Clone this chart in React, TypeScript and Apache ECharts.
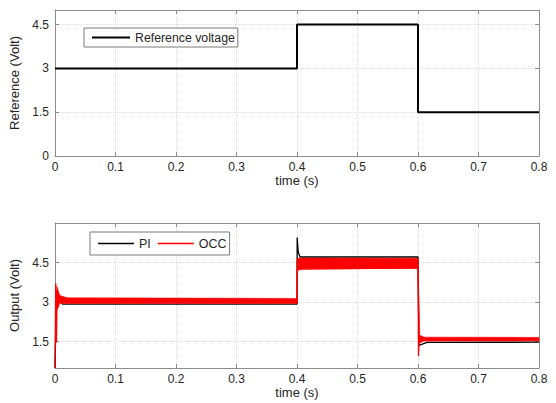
import React, { useEffect, useRef } from 'react';
import * as echarts from 'echarts';

// Top panel: reference voltage (step)
const refTime = [0, 0.4, 0.4, 0.6, 0.6, 0.8];
const refVolt = [3, 3, 4.5, 4.5, 1.5, 1.5];

// Bottom panel: PI output
const piTime = [0, 0.002, 0.004, 0.008, 0.013, 0.4, 0.4003, 0.402, 0.405, 0.6, 0.6015, 0.606, 0.615, 0.8];
const piVolt = [0.5, 3.0, 3.27, 3.05, 2.92, 2.92, 5.45, 4.9, 4.71, 4.71, 1.36, 1.4, 1.47, 1.48];

// Bottom panel: OCC output (transient trace)
const occTime = [0, 0.0012, 0.0024, 0.0035, 0.005, 0.007, 0.01, 0.4, 0.4005, 0.401, 0.6, 0.6008, 0.602, 0.605, 0.8];
const occVolt = [0.5, 3.71, 1.47, 3.45, 2.8, 3.2, 3.05, 3.05, 4.6, 4.25, 4.3, 0.96, 1.72, 1.55, 1.58];

// Bottom panel: OCC ripple envelope
const bandTime = [0.003, 0.008, 0.02, 0.4, 0.4008, 0.41, 0.6, 0.6025, 0.61, 0.8];
const bandLow = [2.7, 2.96, 2.95, 2.95, 4.2, 4.26, 4.28, 1.45, 1.52, 1.53];
const bandHigh = [3.6, 3.25, 3.16, 3.14, 4.66, 4.67, 4.66, 1.75, 1.67, 1.66];

// Tick values
const yTicksRef = [0, 1.5, 3, 4.5];
const yTicksOut = [1.5, 3, 4.5];

const axisColor = '#8c8c8c';
const textColor = '#262626';
const font = '"Liberation Sans", Arial, sans-serif';
const gridColor = '#dedede';

function makeX(gridIndex: number, main: boolean) {
  return {
    type: 'value',
    gridIndex,
    min: 0,
    max: 0.8,
    interval: 0.1,
    position: main ? 'bottom' : 'top',
    axisLine: { show: true, onZero: false, lineStyle: { color: axisColor, width: 1 } },
    axisTick: { show: true, inside: true, length: 4, lineStyle: { color: axisColor } },
    axisLabel: { show: main, color: textColor, fontSize: 12, fontFamily: font, margin: 5 },
    splitLine: { show: main, lineStyle: { color: gridColor, type: 'dotted', width: 1 } },
    name: main ? 'time (s)' : '',
    nameLocation: 'middle',
    nameGap: 17,
    nameTextStyle: { color: textColor, fontSize: 13, fontFamily: font },
  };
}

function makeY(gridIndex: number, main: boolean, min: number, max: number, ticks: number[], name: string) {
  return {
    type: 'value',
    gridIndex,
    min,
    max,
    position: main ? 'left' : 'right',
    axisLine: { show: true, onZero: false, lineStyle: { color: axisColor, width: 1 } },
    axisTick: { show: true, inside: true, length: 4, customValues: ticks, lineStyle: { color: axisColor } },
    axisLabel: { show: main, customValues: ticks, color: textColor, fontSize: 12, fontFamily: font, margin: 6 },
    splitLine: { show: main, lineStyle: { color: gridColor, type: 'dotted', width: 1 } },
    name: main ? name : '',
    nameLocation: 'middle',
    nameGap: 28,
    nameTextStyle: { color: textColor, fontSize: 13, fontFamily: font },
  };
}

export default function App() {
  const ref = useRef<HTMLDivElement>(null);
  useEffect(() => {
    if (!ref.current) return;
    const chart = echarts.init(ref.current, null, { renderer: 'svg' });
    const option: any = {
      animation: false,
      backgroundColor: '#ffffff',
      textStyle: { fontFamily: font },
      grid: [
        { left: 55, top: 10, width: 484, height: 146 },
        { left: 55, top: 223, width: 484, height: 145 },
      ],
      xAxis: [makeX(0, true), makeX(0, false), makeX(1, true), makeX(1, false)],
      yAxis: [
        makeY(0, true, 0, 5, yTicksRef, 'Reference (Volt)'),
        makeY(0, false, 0, 5, yTicksRef, ''),
        makeY(1, true, 0.5, 6, yTicksOut, 'Output (Volt)'),
        makeY(1, false, 0.5, 6, yTicksOut, ''),
      ],
      legend: [
        {
          data: [{ name: 'Reference voltage', icon: 'rect' }],
          left: 84,
          top: 28,
          orient: 'horizontal',
          itemWidth: 38,
          itemHeight: 2,
          padding: [3, 3, 3, 8],
          backgroundColor: '#ffffff',
          borderColor: '#7a7a7a',
          borderWidth: 1,
          borderRadius: 0,
          textStyle: { color: textColor, fontSize: 12.3, fontFamily: font, lineHeight: 13 },
          z: 10,
        },
        {
          data: [
            { name: 'PI', icon: 'rect' },
            { name: 'OCC', icon: 'rect' },
          ],
          left: 90,
          top: 232,
          orient: 'horizontal',
          itemWidth: 36,
          itemHeight: 1.5,
          itemGap: 7,
          padding: [5, 3, 5, 8],
          backgroundColor: '#ffffff',
          borderColor: '#7a7a7a',
          borderWidth: 1,
          borderRadius: 0,
          textStyle: { color: textColor, fontSize: 12.5, fontFamily: font, lineHeight: 13 },
          z: 10,
        },
      ],
      series: [
        {
          name: 'Reference voltage',
          type: 'line',
          xAxisIndex: 0,
          yAxisIndex: 0,
          data: refTime.map((t, i) => [t, refVolt[i]]),
          symbol: 'none',
          lineStyle: { color: '#000000', width: 2 },
          itemStyle: { color: '#000000' },
        },
        {
          name: 'PI',
          type: 'line',
          xAxisIndex: 2,
          yAxisIndex: 2,
          data: piTime.map((t, i) => [t, piVolt[i]]),
          symbol: 'none',
          lineStyle: { color: '#000000', width: 1.3 },
          itemStyle: { color: '#000000' },
          z: 2,
        },
        {
          name: 'OCC ripple',
          type: 'custom',
          coordinateSystem: 'cartesian2d',
          xAxisIndex: 2,
          yAxisIndex: 2,
          data: bandTime.map((t, i) => [t, bandLow[i], bandHigh[i]]),
          encode: { x: 0, y: [1, 2] },
          z: 3,
          renderItem: (params: any, api: any) => {
            const i = params.dataIndex;
            if (i >= bandTime.length - 1) return null;
            const pts = [
              api.coord([bandTime[i], bandHigh[i]]),
              api.coord([bandTime[i + 1], bandHigh[i + 1]]),
              api.coord([bandTime[i + 1], bandLow[i + 1]]),
              api.coord([bandTime[i], bandLow[i]]),
            ];
            return {
              type: 'polygon',
              shape: { points: pts },
              style: { fill: '#ff0000', stroke: '#ff0000', lineWidth: 0.6 },
            };
          },
        },
        {
          name: 'OCC',
          type: 'line',
          xAxisIndex: 2,
          yAxisIndex: 2,
          data: occTime.map((t, i) => [t, occVolt[i]]),
          symbol: 'none',
          lineStyle: { color: '#ff0000', width: 1.3 },
          itemStyle: { color: '#ff0000' },
          z: 4,
        },
      ],
    };
    chart.setOption(option);
    return () => chart.dispose();
  }, []);
  return (
    <div
      ref={ref}
      style={{ position: 'fixed', left: 0, top: 0, width: 556, height: 403, background: '#fff' }}
    />
  );
}
